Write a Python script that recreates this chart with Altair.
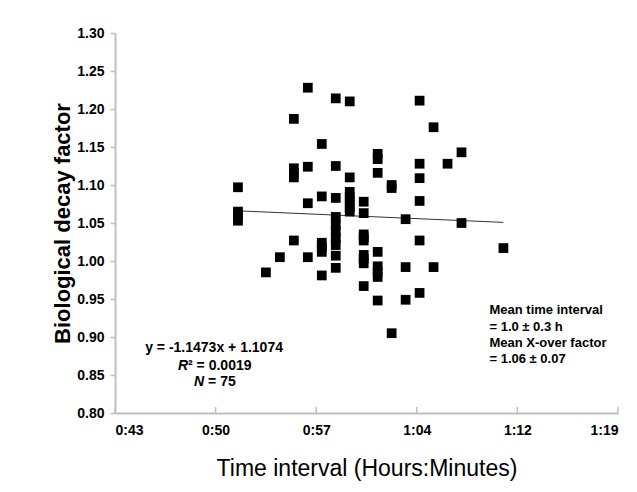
import altair as alt
import pandas as pd

# ---- data ----
minutes = (
    [52] * 4 + [54] + [55] + [56] * 5 + [57] * 4 + [58] * 6 + [59] * 10 +
    [60] * 7 + [61] * 9 + [62] * 8 + [63] * 3 + [64] * 3 + [65] * 6 +
    [66] * 2 + [67] + [68] * 2 + [71]
)
factor = [
    1.097, 1.065, 1.059, 1.053,                                   # 52
    0.985,                                                        # 54
    1.005,                                                        # 55
    1.187, 1.122, 1.116, 1.110, 1.027,                            # 56
    1.228, 1.124, 1.076, 1.005,                                   # 57
    1.154, 1.085, 1.024, 1.018, 1.012, 0.981,                     # 58
    1.214, 1.125, 1.083, 1.058, 1.048, 1.039, 1.030, 1.021, 1.007, 0.991,  # 59
    1.210, 1.110, 1.091, 1.084, 1.078, 1.071, 1.065,              # 60
    1.078, 1.063, 1.035, 1.031, 1.027, 1.008, 1.003, 0.997, 0.967,  # 61
    1.141, 1.134, 1.116, 1.012, 0.993, 0.986, 0.979, 0.948,       # 62
    1.100, 1.096, 0.905,                                          # 63
    1.055, 0.992, 0.949,                                          # 64
    1.211, 1.128, 1.109, 1.079, 1.027, 0.958,                     # 65
    1.176, 0.992,                                                 # 66
    1.128,                                                        # 67
    1.143, 1.050,                                                 # 68
    1.017,                                                        # 71
]

trend_minutes = [52, 71]
trend_factor = [1.0660, 1.0508]

x_tick_values = [43.2, 50.4, 57.6, 64.8, 72.0, 79.2]
y_tick_values = [0.80, 0.85, 0.90, 0.95, 1.00, 1.05, 1.10, 1.15, 1.20, 1.25, 1.30]

eq_line = "y = -1.1473x + 1.1074"
r2_italic, r2_rest = "R", "² = 0.0019"
n_italic, n_rest = "N", "= 75"
right_lines = ["Mean time interval", "= 1.0 ± 0.3 h", "Mean X-over factor", "= 1.06 ± 0.07"]
right_y = [0.9355, 0.9136, 0.8925, 0.8710]

FONT = "Liberation Sans"

df = pd.DataFrame({"minutes": minutes, "factor": factor})
trend = pd.DataFrame({"minutes": trend_minutes, "factor": trend_factor})
ticks = pd.DataFrame({"minutes": x_tick_values})

xscale = alt.Scale(domain=[43.2, 79.2], nice=False, zero=False)
yscale = alt.Scale(domain=[0.8, 1.3], nice=False, zero=False)

label_expr = ("floor(floor(datum.value + 1e-6) / 60) + ':' + "
              "(floor(datum.value + 1e-6) % 60 < 10 ? '0' : '') + floor(datum.value + 1e-6) % 60")

X = alt.X("minutes:Q", scale=xscale,
          axis=alt.Axis(values=x_tick_values, labelExpr=label_expr, ticks=False,
                        labelOverlap=False,
                        title="Time interval (Hours:Minutes)", titleFontWeight="normal",
                        titleFontSize=23, titleX=251.5, titleY=55, titleBaseline="middle",
                        labelPadding=10))
Y = alt.Y("factor:Q", scale=yscale,
          axis=alt.Axis(values=y_tick_values, format=".2f", tickSize=5, labelOverlap=False,
                        tickCount=11,
                        title="Biological decay factor", titleFontWeight="bold",
                        titleFontSize=22, titleX=-53, titleY=190, titleAngle=-90,
                        titleAlign="center", titleBaseline="middle", labelPadding=6))

points = alt.Chart(df).mark_square(size=95, color="black", opacity=1, strokeWidth=0).encode(x=X, y=Y)

tick_rules = alt.Chart(ticks).mark_rule(color="#bfbfbf", strokeWidth=1.5).encode(
    x=X, y=alt.value(380), y2=alt.value(374),
)

line = alt.Chart(trend).mark_line(color="#333333", strokeWidth=1).encode(x=X, y=Y)

ann_left = pd.DataFrame({"minutes": [50.29], "factor": [0.8851]})
txt_eq = alt.Chart(ann_left).mark_text(text=eq_line, font=FONT, fontSize=14, fontWeight="bold",
                                       align="center", baseline="middle", color="black").encode(x=X, y=Y)

ann_r2 = pd.DataFrame({"minutes": [50.29], "factor": [0.8618]})
txt_r = alt.Chart(ann_r2).mark_text(text=r2_italic, font=FONT, fontSize=14, fontWeight="bold",
                                    fontStyle="italic", align="right", baseline="middle",
                                    dx=-26, color="black").encode(x=X, y=Y)
txt_r2 = alt.Chart(ann_r2).mark_text(text=r2_rest, font=FONT, fontSize=14, fontWeight="bold",
                                     align="left", baseline="middle", dx=-26, color="black").encode(x=X, y=Y)

ann_n = pd.DataFrame({"minutes": [50.29], "factor": [0.8408]})
txt_n = alt.Chart(ann_n).mark_text(text=n_italic, font=FONT, fontSize=14, fontWeight="bold",
                                   fontStyle="italic", align="right", baseline="middle",
                                   dx=-10, color="black").encode(x=X, y=Y)
txt_n2 = alt.Chart(ann_n).mark_text(text=n_rest, font=FONT, fontSize=14, fontWeight="bold",
                                    align="left", baseline="middle", dx=-6, color="black").encode(x=X, y=Y)

right_df = pd.DataFrame({"minutes": [70.0] * 4, "factor": right_y, "label": right_lines})
txt_right = alt.Chart(right_df).mark_text(font=FONT, fontSize=13, fontWeight="bold",
                                          align="left", baseline="middle", color="black").encode(
    x=X, y=Y, text="label:N")

chart = alt.layer(tick_rules, line, points, txt_eq, txt_r, txt_r2, txt_n, txt_n2, txt_right).properties(
    width=503, height=380,
    autosize=alt.AutoSizeParams(type="none"),
    padding={"left": 107, "top": 25, "right": 11, "bottom": 71},
).configure_view(stroke=None).configure_axis(
    grid=False, domainColor="#bfbfbf", domainWidth=2, tickColor="#bfbfbf", tickWidth=1.5,
    labelFont=FONT, labelFontSize=14, labelFontWeight="bold", labelColor="black",
    titleFont=FONT, titleColor="black",
)

chart.save("out.html", embed_options={"renderer": "svg", "actions": False})
